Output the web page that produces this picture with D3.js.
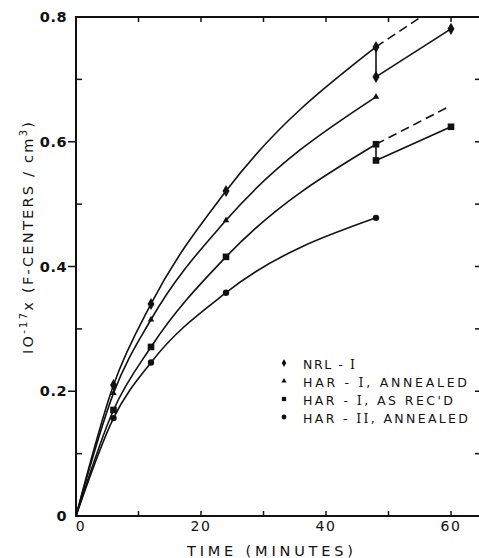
<!DOCTYPE html>
<html><head><meta charset="utf-8">
<script src="https://cdn.jsdelivr.net/npm/d3@7"></script>
<style>body{margin:0;background:#fff}svg{display:block}</style>
</head><body>
<script>
// ---- data ----
const times = [0, 6, 12, 24, 48];
const nrl = [0, 0.21, 0.34, 0.521, 0.752];
const harAnn = [0, 0.197, 0.315, 0.474, 0.672];
const harRec = [0, 0.17, 0.271, 0.4155, 0.596];
const harII = [0, 0.157, 0.246, 0.358, 0.478];
const nrlAfterT = [48, 60];
const nrlAfter = [0.704, 0.781];
const nrlDashT = [48, 55.2];
const nrlDash = [0.752, 0.8];
const recAfterT = [48, 60];
const recAfter = [0.570, 0.624];
const recDashT = [48, 59.8];
const recDash = [0.596, 0.657];
const xTickLabels = [0, 20, 40, 60];
const yTickLabels = [0, 0.2, 0.4, 0.6, 0.8];
const legendLabels = ["NRL - I", "HAR - I, ANNEALED", "HAR - I, AS REC'D", "HAR - II, ANNEALED"];

const W = 479, H = 558;
const svg = d3.select("body").append("svg").attr("width", W).attr("height", H);
const x = d3.scaleLinear().domain([0, 64.8]).range([76, 481]);
const y = d3.scaleLinear().domain([0, 0.8]).range([516, 17]);
const font = "'DejaVu Sans', sans-serif";

// frame
svg.append("rect").attr("x", x(0)).attr("y", y(0.8)).attr("width", x(64.8) - x(0)).attr("height", y(0) - y(0.8))
  .attr("fill", "none").attr("stroke", "#111").attr("stroke-width", 2);

// ticks
const g = svg.append("g").attr("stroke", "#111").attr("stroke-width", 1.5);
d3.range(10, 65, 10).forEach(t => {
  g.append("line").attr("x1", x(t)).attr("x2", x(t)).attr("y1", y(0)).attr("y2", y(0) - 5);
  g.append("line").attr("x1", x(t)).attr("x2", x(t)).attr("y1", y(0.8)).attr("y2", y(0.8) + 5);
});
d3.range(1, 8).forEach(i => {
  const v = i / 10;
  const major = i % 2 === 0;
  if (major) g.append("line").attr("x1", x(0) - 8).attr("x2", x(0)).attr("y1", y(v)).attr("y2", y(v));
  else g.append("line").attr("x1", x(0)).attr("x2", x(0) + 6).attr("y1", y(v)).attr("y2", y(v));
  g.append("line").attr("x1", x(64.8) - 6).attr("x2", x(64.8)).attr("y1", y(v)).attr("y2", y(v));
});

// tick labels
svg.selectAll(".yl").data(yTickLabels).enter().append("text")
  .attr("x", 67).attr("y", d => y(d) + 5).attr("text-anchor", "end")
  .attr("font-family", font).attr("font-size", 14.5).attr("font-weight", "bold").attr("fill", "#111")
  .attr("letter-spacing", 0.5)
  .text(d => d === 0 ? "0" : d.toFixed(1));
svg.selectAll(".xl").data(xTickLabels).enter().append("text")
  .attr("x", d => d === 0 ? x(d) + 5 : x(d)).attr("y", 531).attr("text-anchor", "middle")
  .attr("font-family", font).attr("font-size", 14).attr("fill", "#111").attr("letter-spacing", 1.5)
  .text(d => d);

// axis titles
svg.append("text").attr("x", 187).attr("y", 556)
  .attr("font-family", font).attr("font-size", 14.5).attr("fill", "#111")
  .attr("textLength", 166).attr("lengthAdjust", "spacing").text("TIME  (MINUTES)");
const yt = svg.append("text").attr("transform", "translate(33,354) rotate(-90)")
  .attr("font-family", font).attr("font-size", 14.5).attr("fill", "#111")
  .attr("textLength", 232).attr("lengthAdjust", "spacing");
yt.append("tspan").text("IO");
yt.append("tspan").attr("font-size", 10).attr("dy", -6).text("-17");
yt.append("tspan").attr("dy", 6).text("x (F-CENTERS / cm");
yt.append("tspan").attr("font-size", 10).attr("dy", -6).text("3");
yt.append("tspan").attr("dy", 6).text(")");

// curves
const line = d3.line().x(d => x(d[0])).y(d => y(d[1])).curve(d3.curveMonotoneX);
const lin = d3.line().x(d => x(d[0])).y(d => y(d[1]));
const series = [nrl, harAnn, harRec, harII];
const lines = svg.append("g").attr("fill", "none").attr("stroke", "#111").attr("stroke-width", 1.6);
series.forEach(s => lines.append("path").attr("d", line(times.map((t, i) => [t, s[i]]))));
[[nrlAfterT, nrlAfter], [recAfterT, recAfter]].forEach(([tt, vv]) =>
  lines.append("path").attr("d", lin(tt.map((t, i) => [t, vv[i]]))));
[[nrlDashT, nrlDash], [recDashT, recDash]].forEach(([tt, vv]) =>
  lines.append("path").attr("stroke-dasharray", "9,5").attr("d", lin(tt.map((t, i) => [t, vv[i]]))));
// vertical connectors at 48 min
lines.append("path").attr("d", lin([[48, nrl[4]], [48, nrlAfter[0]]]));
lines.append("path").attr("d", lin([[48, harRec[4]], [48, recAfter[0]]]));

// markers
const shapes = [d3.symbolDiamond, d3.symbolTriangle, d3.symbolSquare, d3.symbolCircle];
const sizes = [42, 18, 44, 32];
const mk = svg.append("g").attr("fill", "#111");
series.forEach((s, k) => {
  const pts = times.slice(1).map((t, i) => [t, s[i + 1]]);
  if (k === 0) pts.push([nrlAfterT[0], nrlAfter[0]], [nrlAfterT[1], nrlAfter[1]]);
  if (k === 2) pts.push([recAfterT[0], recAfter[0]], [recAfterT[1], recAfter[1]]);
  pts.forEach(p => mk.append("path").attr("d", d3.symbol(shapes[k], sizes[k])())
    .attr("transform", `translate(${x(p[0])},${y(p[1])})`));
});

// legend
const ly = [364, 382, 400, 418];
const lw = [52, 164, 150, 165];
legendLabels.forEach((lab, i) => {
  mk.append("path").attr("d", d3.symbol(shapes[i], i === 1 ? 12 : 18)())
    .attr("transform", `translate(284,${ly[i] - 1})`);
  const t = svg.append("text").attr("x", 303).attr("y", ly[i] + 5)
    .attr("font-family", font).attr("font-size", 12.5).attr("fill", "#111");
  const parts = lab.split(/(II|I(?=[,\s]|$))/).filter(p => p !== "");
  parts.forEach(p => {
    const sp = t.append("tspan").text(p);
    if (p === "I" || p === "II") sp.attr("font-family", "'DejaVu Serif', serif");
  });
  t.attr("textLength", lw[i]).attr("lengthAdjust", "spacing");
});
</script>
</body></html>
